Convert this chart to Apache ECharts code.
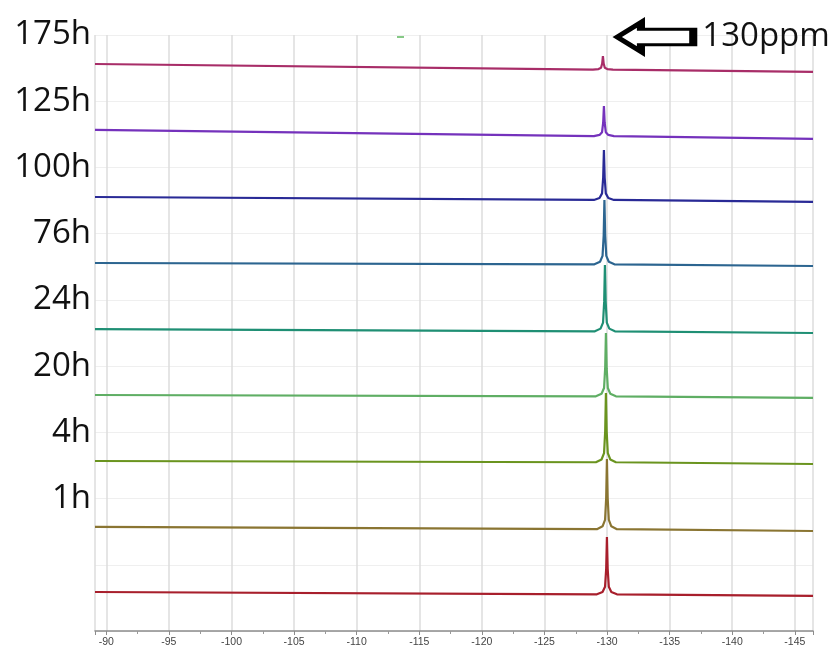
<!DOCTYPE html>
<html>
<head>
<meta charset="utf-8">
<script src="https://cdn.jsdelivr.net/npm/echarts@6/dist/echarts.min.js"></script>
<style>
html,body{margin:0;padding:0;background:#fff;}
#chart{width:837px;height:650px;}
</style>
</head>
<body>
<div id="chart"></div>
<script>
// Stack level tick labels (y value -> time label)
var stackLabels = ['', '', '1h', '4h', '20h', '24h', '76h', '100h', '125h', '175h'];

// Series names (bottom to top) and colours
var seriesNames = ['0h', '1h', '4h', '20h', '24h', '76h', '100h', '125h', '175h'];
var seriesColors = ['#a81f2c', '#8a7532', '#6a941f', '#5fae64', '#1f8f74', '#2c6590', '#292a96', '#7532bc', '#a82d68'];

// Chemical shift (ppm) and offset intensity for each spectrum
var ppm_0h   = [-89.1, -129.19, -129.64, -129.84, -129.93, -129.99, -130.05, -130.14, -130.34, -130.79, -146.45];
var int_0h   = [0.589, 0.554, 0.589, 0.668, 0.939, 1.420, 0.939, 0.668, 0.589, 0.554, 0.529];
var ppm_1h   = [-89.1, -129.19, -129.64, -129.84, -129.93, -129.99, -130.05, -130.14, -130.34, -130.79, -146.45];
var int_1h   = [1.571, 1.538, 1.581, 1.677, 2.009, 2.597, 2.009, 1.677, 1.581, 1.538, 1.510];
var ppm_4h   = [-89.1, -129.11, -129.56, -129.76, -129.85, -129.91, -129.97, -130.06, -130.26, -130.71, -146.45];
var int_4h   = [2.567, 2.548, 2.590, 2.685, 3.013, 3.594, 3.013, 2.685, 2.590, 2.548, 2.522];
var ppm_20h  = [-89.1, -129.11, -129.56, -129.76, -129.85, -129.91, -129.97, -130.06, -130.26, -130.71, -146.45];
var int_20h  = [3.564, 3.544, 3.582, 3.669, 3.969, 4.500, 3.969, 3.669, 3.582, 3.544, 3.519];
var ppm_24h  = [-89.1, -129.03, -129.48, -129.68, -129.77, -129.83, -129.89, -129.98, -130.18, -130.63, -146.45];
var int_24h  = [4.560, 4.525, 4.566, 4.657, 4.970, 5.527, 4.970, 4.657, 4.566, 4.525, 4.500];
var ppm_76h  = [-89.1, -128.99, -129.44, -129.64, -129.73, -129.79, -129.85, -129.94, -130.14, -130.59, -146.45];
var int_76h  = [5.557, 5.537, 5.576, 5.664, 5.969, 6.509, 5.969, 5.664, 5.576, 5.537, 5.512];
var ppm_100h = [-89.1, -128.95, -129.40, -129.60, -129.69, -129.75, -129.81, -129.90, -130.10, -130.55, -146.45];
var int_100h = [6.554, 6.509, 6.539, 6.608, 6.844, 7.264, 6.844, 6.608, 6.539, 6.509, 6.479];
var ppm_125h = [-89.1, -128.95, -129.40, -129.60, -129.69, -129.75, -129.81, -129.90, -130.10, -130.55, -146.45];
var int_125h = [7.566, 7.473, 7.491, 7.532, 7.675, 7.928, 7.675, 7.532, 7.491, 7.473, 7.430];
var ppm_175h = [-89.1, -128.87, -129.32, -129.52, -129.61, -129.67, -129.73, -129.82, -130.02, -130.47, -146.45];
var int_175h = [8.562, 8.478, 8.486, 8.505, 8.569, 8.683, 8.569, 8.505, 8.486, 8.478, 8.442];

// Axis range
var ppmMin = -146.45, ppmMax = -89.1;
// Annotation
var annotationText = '130ppm';
var arrowAt = [-133.85, 8.97];

var ppmArrays = [ppm_0h, ppm_1h, ppm_4h, ppm_20h, ppm_24h, ppm_76h, ppm_100h, ppm_125h, ppm_175h];
var intArrays = [int_0h, int_1h, int_4h, int_20h, int_24h, int_76h, int_100h, int_125h, int_175h];

function pairs(xs, ys) {
  var out = [];
  for (var i = 0; i < xs.length; i++) out.push([xs[i], ys[i]]);
  return out;
}

var series = seriesNames.map(function (name, i) {
  var s = {
    name: name,
    type: 'line',
    data: pairs(ppmArrays[i], intArrays[i]),
    showSymbol: false,
    symbol: 'none',
    animation: false,
    lineStyle: { color: seriesColors[i], width: 2.2 },
    itemStyle: { color: seriesColors[i] },
    z: 3
  };
  if (name === '175h') {
    s.markPoint = {
      animation: false,
      symbol: 'path://M0,15 L24,0 L24,7 L77,7 L77,23 L24,23 L24,30 Z',
      symbolSize: [76, 29],
      symbolKeepAspect: false,
      itemStyle: { color: '#fff', borderColor: '#000', borderWidth: 5 },
      label: {
        show: true, position: 'right', distance: 5,
        formatter: annotationText,
        fontSize: 33, color: '#111', fontFamily: 'Open Sans'
      },
      data: [{ coord: arrowAt }]
    };
  }
  return s;
});

var chart = echarts.init(document.getElementById('chart'), null, { renderer: 'canvas' });
chart.setOption({
  backgroundColor: '#fff',
  animation: false,
  grid: { left: 95, right: 24, top: 35, bottom: 19, containLabel: false },
  xAxis: {
    type: 'value',
    inverse: true,
    min: ppmMin,
    max: ppmMax,
    splitNumber: 12,
    axisLine: { show: true, lineStyle: { color: '#8c8c8c', width: 1.5 } },
    axisTick: { show: true, length: 4, lineStyle: { color: '#8c8c8c' } },
    minorTick: { show: true, splitNumber: 2, length: 3, lineStyle: { color: '#999' } },
    axisLabel: {
      show: true, fontSize: 10.5, color: '#444', margin: 6,
      fontFamily: 'Liberation Sans',
      showMinLabel: false, showMaxLabel: false
    },
    splitLine: { show: true, lineStyle: { color: '#dcdcdc', width: 1.5 } }
  },
  yAxis: {
    type: 'value',
    min: 0,
    max: 9,
    interval: 1,
    axisLine: { show: false },
    axisTick: { show: false },
    axisLabel: {
      show: true,
      margin: 4,
      fontSize: 33,
      color: '#111',
      fontFamily: 'Open Sans',
      formatter: function (v) { return stackLabels[Math.round(v)] || ''; }
    },
    splitLine: { show: true, lineStyle: { color: '#efefef', width: 1 } }
  },
  graphic: [
    { type: 'rect', left: 397, top: 36, shape: { width: 7, height: 2 }, style: { fill: '#86c986' } }
  ],
  series: series
});
</script>
</body>
</html>
